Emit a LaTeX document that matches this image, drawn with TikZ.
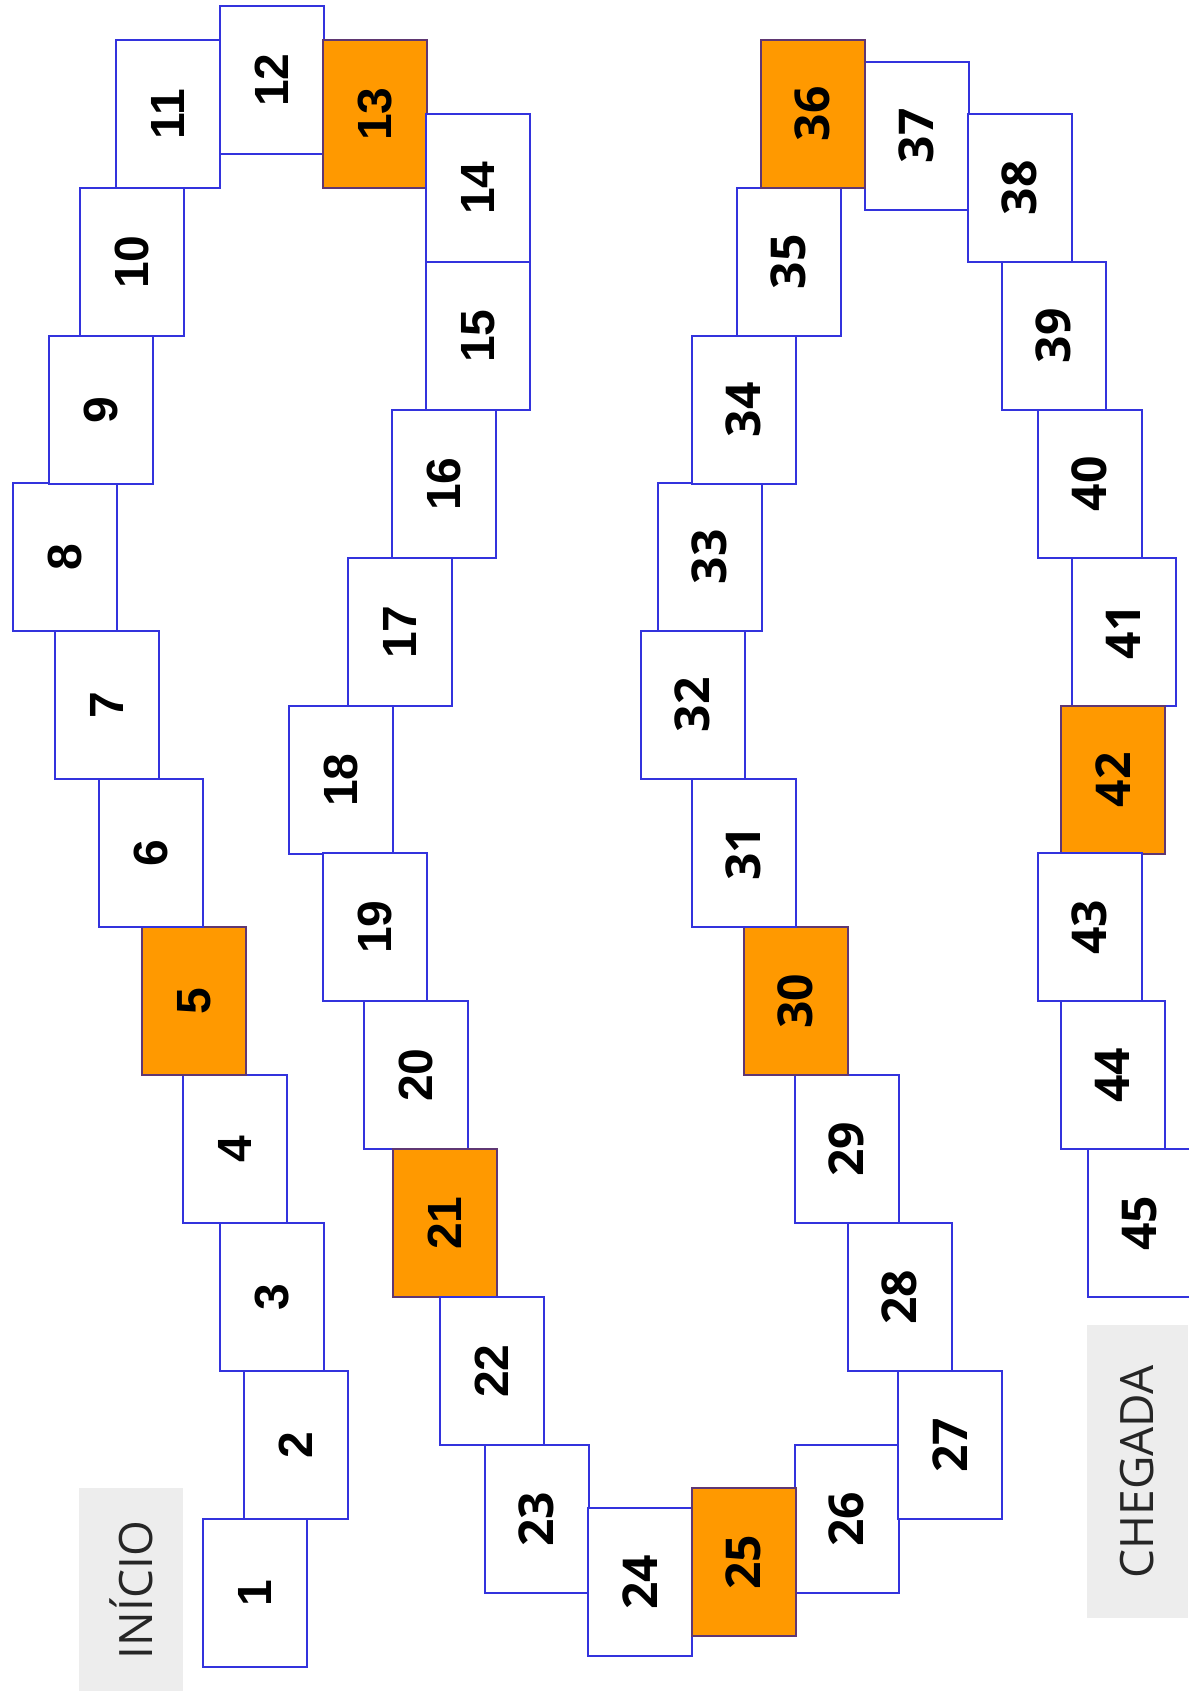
\documentclass[tikz,border=0pt]{standalone}
\usepackage{fontspec}
\usepackage{graphicx}
\newfontfamily\numA{Liberation Sans}
\newfontfamily\numB{Open Sans}
\newfontfamily\lblfont{Open Sans}
\definecolor{cellblue}{RGB}{51,51,221}
\definecolor{orangeC}{RGB}{255,153,0}
\definecolor{hotborder}{RGB}{95,55,115}
\definecolor{lblgray}{RGB}{237,237,237}
\newcommand{\rt}[1]{\rotatebox{90}{#1}}
\tikzset{
  cellA/.style={draw=cellblue, line width=1pt, fill=white, minimum width=51.75pt,
    minimum height=74pt, anchor=north west, inner sep=0pt,
    font=\numA\bfseries\fontsize{24}{24}\selectfont},
  cellB/.style={cellA, font=\numB\bfseries\fontsize{24}{24}\selectfont},
  hotA/.style={cellA, fill=orangeC, draw=hotborder},
  hotB/.style={cellB, fill=orangeC, draw=hotborder},
  lblbox/.style={fill=lblgray, draw=none},
  lbltext/.style={font=\lblfont\fontsize{23}{23}\selectfont, text=black!85, inner sep=0pt}
}
\begin{document}
\begin{tikzpicture}[x=0.5pt,y=-0.5pt]
\useasboundingbox (0,0) rectangle (1188,1691);
% labels
\fill[lblgray] (79,1488) rectangle (183,1691);
\node[lbltext] (inicio) at (131,1590) {\rt{INÍCIO}};
\fill[lblgray] (1087,1325) rectangle (1188,1618);
\node[lbltext] (chegada) at (1137,1472) {\rt{CHEGADA}};
% cells
\node[cellA] (c1) at (202,1518) {\rt{1}};
\node[cellA] (c2) at (243,1370) {\rt{2}};
\node[cellA] (c3) at (219,1222) {\rt{3}};
\node[cellA] (c4) at (182,1074) {\rt{4}};
\node[hotA]  (c5) at (141,926) {\rt{5}};
\node[cellA] (c6) at (98,778) {\rt{6}};
\node[cellA] (c7) at (54,630) {\rt{7}};
\node[cellA] (c8) at (12,482) {\rt{8}};
\node[cellA] (c9) at (48,335) {\rt{9}};
\node[cellA] (c10) at (79,187) {\rt{10}};
\node[cellA] (c11) at (115,39) {\rt{11}};
\node[cellA] (c12) at (219,5) {\rt{12}};
\node[hotA]  (c13) at (322,39) {\rt{13}};
\node[cellA] (c14) at (425,113) {\rt{14}};
\node[cellA] (c15) at (425,261) {\rt{15}};
\node[cellA] (c16) at (391,409) {\rt{16}};
\node[cellA] (c17) at (347,557) {\rt{17}};
\node[cellA] (c18) at (288,705) {\rt{18}};
\node[cellA] (c19) at (322,852) {\rt{19}};
\node[cellA] (c20) at (363,1000) {\rt{20}};
\node[hotA]  (c21) at (392,1148) {\rt{21}};
\node[cellA] (c22) at (439,1296) {\rt{22}};
\node[cellB] (c23) at (484,1444) {\rt{23}};
\node[cellB] (c24) at (587,1507) {\rt{24}};
\node[cellB] (c26) at (794,1444) {\rt{26}};
\node[hotB]  (c25) at (691,1487) {\rt{25}};
\node[cellB] (c27) at (897,1370) {\rt{27}};
\node[cellB] (c28) at (847,1222) {\rt{28}};
\node[cellB] (c29) at (794,1074) {\rt{29}};
\node[hotB]  (c30) at (743,926) {\rt{30}};
\node[cellB] (c31) at (691,778) {\rt{31}};
\node[cellB] (c32) at (640,630) {\rt{32}};
\node[cellB] (c33) at (657,482) {\rt{33}};
\node[cellB] (c34) at (691,335) {\rt{34}};
\node[cellB] (c35) at (736,187) {\rt{35}};
\node[cellB] (c37) at (864,61) {\rt{37}};
\node[hotB]  (c36) at (760,39) {\rt{36}};
\node[cellB] (c38) at (967,113) {\rt{38}};
\node[cellB] (c39) at (1001,261) {\rt{39}};
\node[cellB] (c40) at (1037,409) {\rt{40}};
\node[cellB] (c41) at (1071,557) {\rt{41}};
\node[hotB]  (c42) at (1060,705) {\rt{42}};
\node[cellB] (c43) at (1037,852) {\rt{43}};
\node[cellB] (c44) at (1060,1000) {\rt{44}};
\node[cellB] (c45) at (1087,1148) {\rt{45}};
\end{tikzpicture}
\end{document}
